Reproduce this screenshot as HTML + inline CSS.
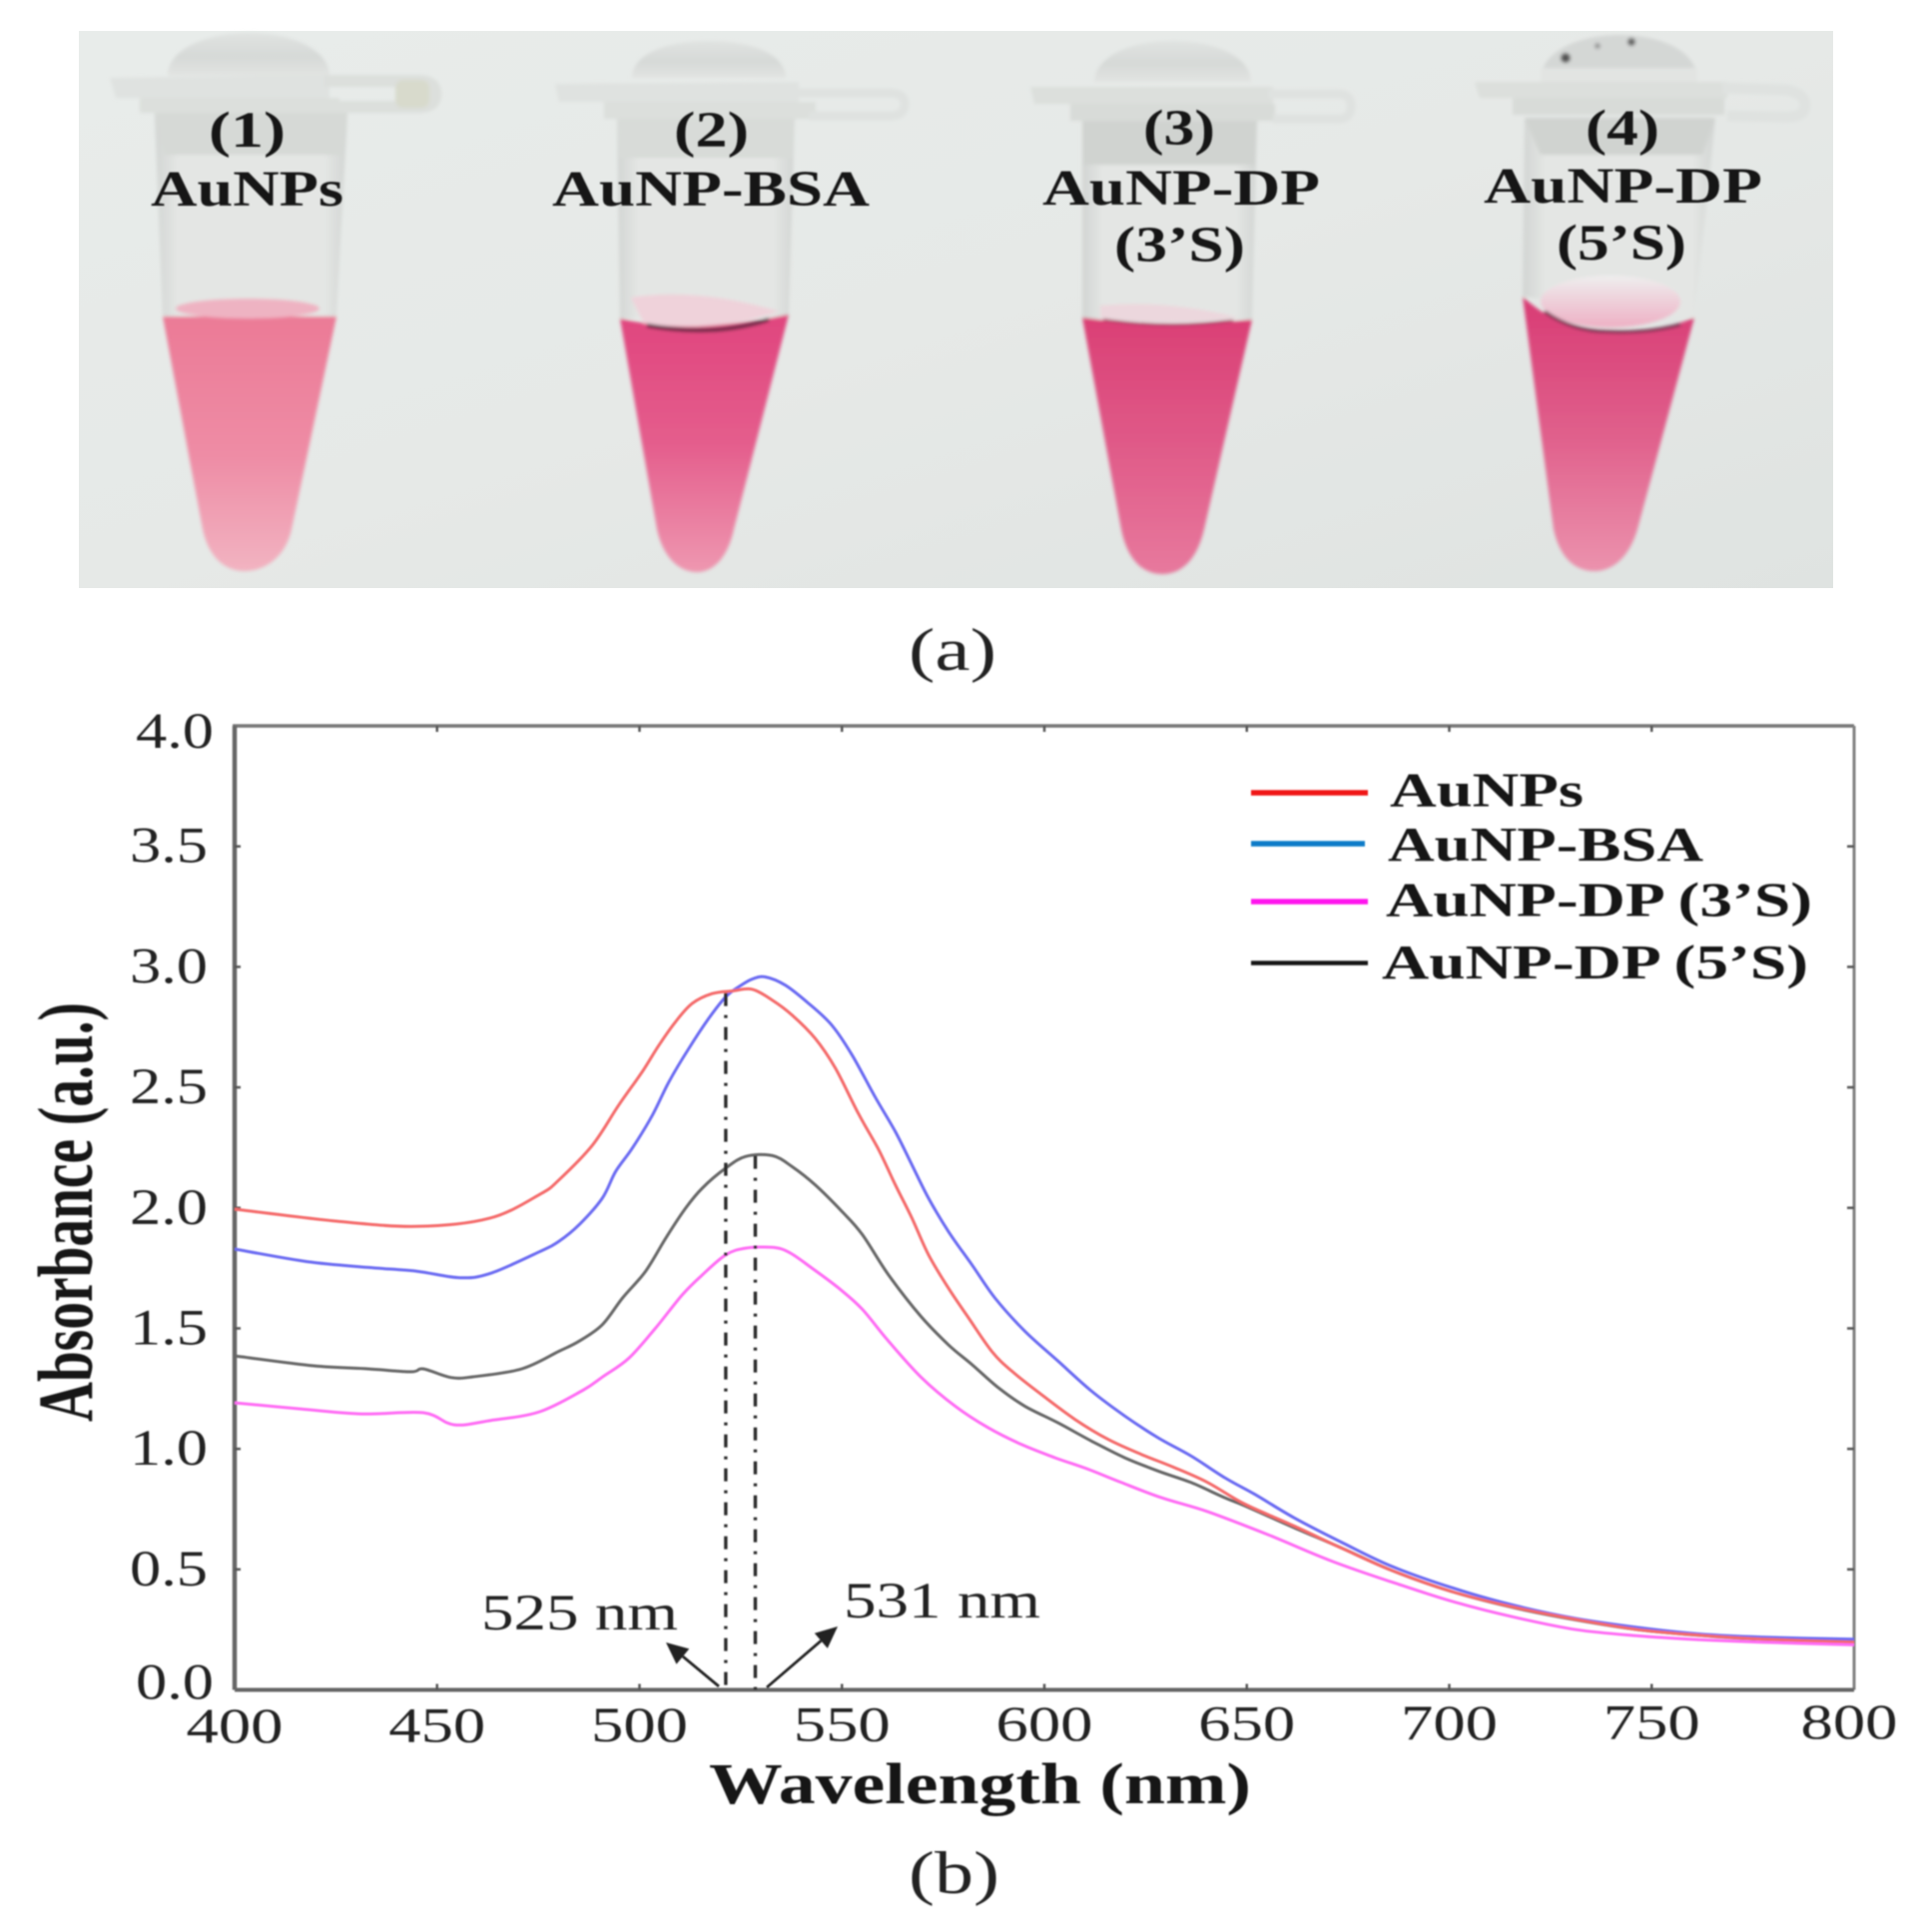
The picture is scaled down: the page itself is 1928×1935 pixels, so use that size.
<!DOCTYPE html>
<html lang="en">
<head>
<meta charset="utf-8">
<title>AuNP photo and absorbance spectra</title>
<style>
html,body{margin:0;padding:0;background:#fff;width:1928px;height:1935px;overflow:hidden}
svg{display:block}
text{font-family:"Liberation Serif","DejaVu Serif",serif}
</style>
</head>
<body>
<svg id="figure" xmlns="http://www.w3.org/2000/svg" width="1928" height="1935" viewBox="0 0 1928 1935">
<defs>
<filter id="soft" x="-5%" y="-5%" width="110%" height="110%"><feGaussianBlur stdDeviation="1.8"/></filter>
<filter id="textsoft" x="-5%" y="-5%" width="110%" height="110%"><feGaussianBlur stdDeviation="0.7"/></filter>
<linearGradient id="bg" x1="0" y1="0" x2="1" y2="1">
<stop offset="0" stop-color="#e8ecea"/><stop offset="0.5" stop-color="#e6e9e7"/><stop offset="1" stop-color="#dfe3e1"/>
</linearGradient>
<linearGradient id="glass" x1="0" y1="0" x2="1" y2="0">
<stop offset="0" stop-color="#d2d5d3"/><stop offset="0.12" stop-color="#e4e6e4"/><stop offset="0.88" stop-color="#e4e6e4"/><stop offset="1" stop-color="#d2d5d3"/>
</linearGradient>
<linearGradient id="dome" x1="0" y1="0" x2="0" y2="1">
<stop offset="0" stop-color="#e0e3e1"/><stop offset="0.55" stop-color="#d6d9d7"/><stop offset="1" stop-color="#e2e4e2"/>
</linearGradient>
<linearGradient id="liq1" x1="0" y1="0" x2="0" y2="1"><stop offset="0" stop-color="#eb7a96"/><stop offset="0.55" stop-color="#ee8ca5"/><stop offset="1" stop-color="#f2b3c1"/></linearGradient>
<linearGradient id="liq2" x1="0" y1="0" x2="0" y2="1"><stop offset="0" stop-color="#e0457e"/><stop offset="0.5" stop-color="#e45d8c"/><stop offset="1" stop-color="#ee97b0"/></linearGradient>
<linearGradient id="liq3" x1="0" y1="0" x2="0" y2="1"><stop offset="0" stop-color="#da3f75"/><stop offset="0.5" stop-color="#e05a88"/><stop offset="1" stop-color="#e7799d"/></linearGradient>
<linearGradient id="liq4" x1="0" y1="0" x2="0" y2="1"><stop offset="0" stop-color="#d83b74"/><stop offset="0.5" stop-color="#e05f8b"/><stop offset="1" stop-color="#eb92ad"/></linearGradient>
<linearGradient id="fade4" x1="0" y1="0" x2="0" y2="1"><stop offset="0" stop-color="#eeeeee"/><stop offset="1" stop-color="#eeb0c4"/></linearGradient>
</defs>

<g>
<rect x="79" y="31" width="1757" height="558" fill="url(#bg)"/>
<g filter="url(#soft)">
<g>
<path d="M155 113L348 113L337 317L163 317Z" fill="url(#glass)"/>
<path d="M155 113L348 113L343 155L165 155Z" fill="#d6d9d6"/>
<path d="M168 76C168 50 205 33 249 33C293 33 330 50 330 76Z" fill="url(#dome)"/>
<path d="M110 78L330 75L330 98L116 98Z" fill="#dfe2e0"/>
<path d="M140 98L340 98L340 113L140 113Z" fill="#dcdfdc"/>
<path d="M325 81L420 81Q436 81 436 94Q436 107 420 107L330 107" fill="none" stroke="#dcdfdc" stroke-width="12"/>
<rect x="396" y="80" width="34" height="28" rx="8" fill="#d8dacc"/>
<path d="M163 317L337 317L292 530C286 558 265 572 245 572C225 572 209 558 203 530Z" fill="url(#liq1)"/>
<ellipse cx="248" cy="309" rx="72" ry="10" fill="#eeb3c2"/>
</g>
<g>
<path d="M618 117L796 117L790 319L621 319Z" fill="url(#glass)"/>
<path d="M618 117L796 117L794 158L620 158Z" fill="#d8dbd8"/>
<path d="M633 78C633 55 665 41 710 41C755 41 787 55 787 78Z" fill="url(#dome)"/>
<path d="M556 84L800 82L800 102L560 102Z" fill="#dfe2e0"/>
<path d="M605 102L817 102L817 119L605 119Z" fill="#dcdfdc"/>
<path d="M800 93L890 93Q906 93 906 104Q906 116 890 116L810 116" fill="none" stroke="#dfe2e0" stroke-width="9"/>
<path d="M621 319Q690 336 790 315L735 530C729 558 715 573 698 573C680 573 664 558 658 530Z" fill="url(#liq2)"/>
<path d="M632 298Q700 288 780 312Q715 334 645 324Z" fill="#efd2da"/>
<path d="M648 326Q715 338 770 320" fill="none" stroke="#5f2740" stroke-width="4"/>
</g>
<g>
<path d="M1084 121L1259 121L1254 320L1084 320Z" fill="url(#glass)"/>
<path d="M1084 121L1259 121L1257 165L1085 165Z" fill="#d0d3d0"/>
<path d="M1096 82C1096 58 1130 41 1174 41C1220 41 1253 58 1253 82Z" fill="url(#dome)"/>
<path d="M1032 87L1275 87L1275 104L1036 104Z" fill="#dcdfdc"/>
<path d="M1072 104L1277 104L1277 121L1072 121Z" fill="#d8dbd8"/>
<path d="M1270 94L1340 94Q1353 94 1353 106Q1353 119 1340 119L1275 119" fill="none" stroke="#dfe2e0" stroke-width="9"/>
<path d="M1084 318Q1170 330 1254 320L1206 530C1199 560 1184 575 1164 575C1144 575 1129 560 1123 530Z" fill="url(#liq3)"/>
<path d="M1102 306Q1170 300 1240 318Q1170 328 1102 318Z" fill="#ecd7dd"/>
<path d="M1105 320Q1170 330 1235 321" fill="none" stroke="#a03a60" stroke-width="2"/>
</g>
<g>
<path d="M1527 118L1718 118L1697 318L1525 297Z" fill="url(#glass)"/>
<path d="M1527 118L1718 118L1705 155L1543 155Z" fill="#d0d3d0"/>
<path d="M1543 80C1543 52 1580 35 1622 35C1665 35 1700 52 1700 80Z" fill="#d4d7d5"/>
<rect x="1543" y="68" width="157" height="16" fill="#e2e4e2"/>
<path d="M1477 82L1730 82L1730 98L1482 98Z" fill="#dcdfdc"/>
<path d="M1515 98L1727 98L1727 115L1515 115Z" fill="#d8dbd8"/>
<path d="M1725 88L1790 90Q1808 94 1808 105Q1808 117 1790 117L1730 116" fill="none" stroke="#dfe2e0" stroke-width="11"/>
<path d="M1525 297Q1560 330 1610 332Q1660 334 1697 318L1640 530C1632 558 1615 572 1597 572C1577 572 1562 558 1556 530Z" fill="url(#liq4)"/>
<ellipse cx="1613" cy="302" rx="70" ry="26" fill="url(#fade4)"/>
<path d="M1547 312Q1575 332 1610 332Q1650 334 1683 325" fill="none" stroke="#6a2d48" stroke-width="3"/>
<circle cx="1568" cy="58" r="5" fill="#555"/><circle cx="1634" cy="42" r="4" fill="#666"/><circle cx="1600" cy="46" r="3" fill="#999"/>
</g>
</g>
<g filter="url(#textsoft)" font-weight="700" fill="#141414" font-size="51">
<text x="209" y="147" textLength="77" lengthAdjust="spacingAndGlyphs">(1)</text>
<text x="151" y="206" textLength="193" lengthAdjust="spacingAndGlyphs">AuNPs</text>
<text x="675" y="147" textLength="75" lengthAdjust="spacingAndGlyphs">(2)</text>
<text x="553" y="206" textLength="318" lengthAdjust="spacingAndGlyphs">AuNP-BSA</text>
<text x="1145" y="145" textLength="72" lengthAdjust="spacingAndGlyphs">(3)</text>
<text x="1044" y="205" textLength="278" lengthAdjust="spacingAndGlyphs">AuNP-DP</text>
<text x="1116" y="262" textLength="131" lengthAdjust="spacingAndGlyphs">(3’S)</text>
<text x="1588" y="145" textLength="74" lengthAdjust="spacingAndGlyphs">(4)</text>
<text x="1486" y="203" textLength="279" lengthAdjust="spacingAndGlyphs">AuNP-DP</text>
<text x="1559" y="260" textLength="130" lengthAdjust="spacingAndGlyphs">(5’S)</text>
</g>
</g>

<text x="910" y="671" font-size="60" fill="#222" textLength="88" lengthAdjust="spacingAndGlyphs" filter="url(#textsoft)">(a)</text>
<text x="910" y="1896" font-size="60" fill="#222" textLength="91" lengthAdjust="spacingAndGlyphs" filter="url(#textsoft)">(b)</text>

<g id="chart" filter="url(#textsoft)"></g>
</svg>

<script>
// ---- chart data ----
var xTicks = [400, 450, 500, 550, 600, 650, 700, 750, 800];
var yTicks = [0.0, 0.5, 1.0, 1.5, 2.0, 2.5, 3.0, 3.5, 4.0];
var yTickLabels = ["0.0", "0.5", "1.0", "1.5", "2.0", "2.5", "3.0", "3.5", "4.0"];

var aunpsWavelength = [400, 425, 445, 463, 475.4, 480.1, 488.4, 494.9, 500.7, 504.8, 508.9, 513, 517.9, 522.9, 527.8, 532.8, 537.7, 543.4, 548.4, 554.1, 559.1, 563.2, 567.3, 571.4, 576.3, 581.3, 587, 592, 599.3, 607.6, 615.8, 624, 632.2, 640.4, 649.5, 661.7, 673.8, 685.9, 701, 716.2, 731.4, 746.6, 761.7, 776.9, 800];
var aunpsAbsorbance = [1.995, 1.945, 1.923, 1.957, 2.056, 2.116, 2.261, 2.427, 2.565, 2.675, 2.772, 2.848, 2.889, 2.9, 2.907, 2.862, 2.8, 2.703, 2.579, 2.39, 2.24, 2.095, 1.957, 1.805, 1.667, 1.543, 1.405, 1.322, 1.225, 1.122, 1.039, 0.977, 0.922, 0.86, 0.771, 0.68, 0.585, 0.495, 0.406, 0.342, 0.292, 0.25, 0.227, 0.211, 0.198];

var bsaWavelength = [400, 417.9, 433, 445, 455.7, 463.3, 475.3, 480.1, 485.1, 490.8, 494.1, 498.2, 503.2, 507.3, 512.2, 517.1, 521.3, 524.5, 527.8, 531.1, 536, 541.8, 547.5, 552.5, 558.2, 563.2, 567.3, 571.4, 576.3, 582.1, 587.8, 595.2, 603.4, 611.7, 619.9, 628.1, 636.3, 644.6, 652, 661.7, 673.8, 685.9, 701, 716.2, 731.4, 746.6, 761.7, 776.9, 800];
var bsaAbsorbance = [1.829, 1.777, 1.753, 1.737, 1.71, 1.729, 1.818, 1.861, 1.93, 2.04, 2.151, 2.247, 2.385, 2.524, 2.662, 2.786, 2.876, 2.917, 2.949, 2.958, 2.924, 2.848, 2.758, 2.634, 2.46, 2.316, 2.178, 2.04, 1.902, 1.764, 1.626, 1.488, 1.364, 1.239, 1.136, 1.046, 0.97, 0.88, 0.811, 0.714, 0.609, 0.512, 0.422, 0.35, 0.296, 0.259, 0.232, 0.219, 0.21];

var dp3Wavelength = [400, 416.3, 431.5, 446.6, 454.2, 463.3, 475.3, 486, 491, 497.4, 504, 510.6, 515.5, 521.3, 526.2, 532.8, 536.9, 542.6, 549.2, 555, 561.5, 569.7, 578, 586.2, 594.4, 602.7, 610.9, 619.1, 629, 640.4, 655.5, 670.7, 685.9, 701, 716.2, 731.4, 746.6, 761.7, 776.9, 800];
var dp3Absorbance = [1.191, 1.166, 1.145, 1.15, 1.1, 1.118, 1.154, 1.243, 1.3, 1.377, 1.502, 1.64, 1.722, 1.805, 1.833, 1.836, 1.816, 1.75, 1.667, 1.58, 1.447, 1.295, 1.177, 1.087, 1.018, 0.963, 0.915, 0.86, 0.797, 0.739, 0.642, 0.536, 0.447, 0.366, 0.301, 0.25, 0.224, 0.208, 0.198, 0.187];

var dp5Wavelength = [400, 419.4, 433, 443.6, 446.6, 453.5, 458.8, 470.9, 480.1, 485.1, 490.8, 495.8, 501.5, 506.5, 511.4, 515.5, 521.3, 526.2, 532.8, 537.7, 543.4, 550, 555, 561.5, 569.5, 576.3, 582.1, 588.7, 595.2, 603.4, 611.7, 619.9, 628.1, 636.3, 644.6, 649.5, 661.7, 673.8, 685.9, 701, 716.2, 731.4, 746.6, 761.7, 776.9, 800];
var dp5Absorbance = [1.386, 1.345, 1.332, 1.32, 1.332, 1.296, 1.299, 1.332, 1.405, 1.447, 1.515, 1.626, 1.737, 1.875, 1.999, 2.082, 2.165, 2.213, 2.217, 2.171, 2.095, 1.985, 1.89, 1.722, 1.55, 1.432, 1.35, 1.253, 1.177, 1.108, 1.032, 0.963, 0.908, 0.86, 0.797, 0.764, 0.673, 0.586, 0.495, 0.406, 0.34, 0.29, 0.25, 0.226, 0.21, 0.2];

// peak guide lines: wavelength and the absorbance where each guide stops
var guideWavelengths = [521.3, 528.6];
var guideTops = [2.891, 2.216];

var legendLabels = ["AuNPs", "AuNP-BSA", "AuNP-DP (3’S)", "AuNP-DP (5’S)"];
var legendColors = ["#f01818", "#0a7cc8", "#ff14ee", "#141414"];

// ---- axis functions ----
var PLOT_L = 235, PLOT_R = 1857, PLOT_T = 727, PLOT_B = 1692.5;
function xScale(w) { return PLOT_L + (w - 400) / 400 * (PLOT_R - PLOT_L); }
function yScale(a) { return PLOT_B - a / 4 * (PLOT_B - PLOT_T); }

var SVGNS = "http://www.w3.org/2000/svg";
var chart = document.getElementById("chart");
function make(tag, attrs, parent) {
  var el = document.createElementNS(SVGNS, tag);
  for (var k in attrs) el.setAttribute(k, attrs[k]);
  (parent || chart).appendChild(el);
  return el;
}
function smoothPath(xs, ys) {
  var pts = xs.map(function (w, i) { return [xScale(w), yScale(ys[i])]; });
  var d = "M" + pts[0][0].toFixed(1) + " " + pts[0][1].toFixed(1);
  for (var i = 0; i < pts.length - 1; i++) {
    var p0 = pts[Math.max(0, i - 1)], p1 = pts[i], p2 = pts[i + 1], p3 = pts[Math.min(pts.length - 1, i + 2)];
    var c1x = p1[0] + (p2[0] - p0[0]) / 6, c1y = p1[1] + (p2[1] - p0[1]) / 6;
    var c2x = p2[0] - (p3[0] - p1[0]) / 6, c2y = p2[1] - (p3[1] - p1[1]) / 6;
    d += "C" + c1x.toFixed(1) + " " + c1y.toFixed(1) + " " + c2x.toFixed(1) + " " + c2y.toFixed(1) + " " + p2[0].toFixed(1) + " " + p2[1].toFixed(1);
  }
  return d;
}

// ---- frame ----
var frameTop = make("line", {x1: PLOT_L - 2, y1: PLOT_T, x2: PLOT_R, y2: PLOT_T, stroke: "#777", "stroke-width": 3.5});


var frameRight = make("line", {x1: PLOT_R, y1: PLOT_T, x2: PLOT_R, y2: PLOT_B, stroke: "#808080", "stroke-width": 3});


var axisLeft = make("line", {x1: PLOT_L, y1: PLOT_T, x2: PLOT_L, y2: PLOT_B, stroke: "#666", "stroke-width": 4.5});


var axisBottom = make("line", {x1: PLOT_L, y1: PLOT_B, x2: PLOT_R, y2: PLOT_B, stroke: "#666", "stroke-width": 4});



// ---- ticks ----
xTicks.forEach(function (w, i) {
  var px = xScale(w);
  if (i > 0 && i < xTicks.length - 1) {
    var b = make("line", {x1: px, y1: PLOT_B, x2: px, y2: PLOT_B - 6, stroke: "#555", "stroke-width": 2.5});
    
    
    var t = make("line", {x1: px, y1: PLOT_T, x2: px, y2: PLOT_T + 6, stroke: "#555", "stroke-width": 2.5});
    
    
  }
  var lbl = make("text", {x: px - (w === 800 ? 5 : 0), y: 1745 - 4 * (w - 400) / 400, "text-anchor": "middle", "font-size": 50, fill: "#222", textLength: 97, lengthAdjust: "spacingAndGlyphs"});
  
  
  lbl.textContent = String(w);
});
yTicks.forEach(function (a, i) {
  var py = yScale(a);
  if (i > 0 && i < yTicks.length - 1) {
    var l = make("line", {x1: PLOT_L, y1: py, x2: PLOT_L + 6, y2: py, stroke: "#555", "stroke-width": 2.5});
    
    
    var r = make("line", {x1: PLOT_R, y1: py, x2: PLOT_R - 7, y2: py, stroke: "#555", "stroke-width": 2.5});
    
    
  }
  var shift = a === 0 ? 9 : (a === 4 ? 22 : 16);
  var right = a === 0 || a === 4 ? 214 : 208;
  var lbl = make("text", {x: right, y: py + shift, "text-anchor": "end", "font-size": 51, fill: "#222", textLength: 78, lengthAdjust: "spacingAndGlyphs"});
  
  
  lbl.textContent = yTickLabels[i];
});

// ---- axis titles ----
var xTitle = make("text", {x: 710, y: 1806, "font-size": 58, "font-weight": 700, fill: "#141414", textLength: 543, lengthAdjust: "spacingAndGlyphs"});


xTitle.textContent = "Wavelength (nm)";
var yTitle = make("text", {transform: "translate(92 1424) rotate(-90)", x: 0, y: 0, "font-size": 78, "font-weight": 700, fill: "#141414", textLength: 420, lengthAdjust: "spacingAndGlyphs"});


yTitle.textContent = "Absorbance (a.u.)";

// ---- series ----
function drawSeries(xs, ys, color, name) {
  var p = make("path", {d: smoothPath(xs, ys), fill: "none", stroke: color, "stroke-width": 3, "stroke-linejoin": "round"});
  
  
}
drawSeries(dp5Wavelength, dp5Absorbance, "#666666", "series-aunp-dp-5s");
drawSeries(bsaWavelength, bsaAbsorbance, "#6a6af2", "series-aunp-bsa");
drawSeries(aunpsWavelength, aunpsAbsorbance, "#f46a6a", "series-aunps");
drawSeries(dp3Wavelength, dp3Absorbance, "#ff6cf4", "series-aunp-dp-3s");

// ---- guides ----
guideWavelengths.forEach(function (w, i) {
  var g = make("line", {x1: xScale(w), x2: xScale(w), y1: yScale(guideTops[i]), y2: PLOT_B, stroke: "#2a2a2a", "stroke-width": 3.4, "stroke-dasharray": "13 9 3 9"});
  
  
});

// ---- annotations ----
function arrow(x1, y1, x2, y2, name) {
  var a = Math.atan2(y2 - y1, x2 - x1), len = 22, wid = 10;
  var bx = x2 - len * Math.cos(a), by = y2 - len * Math.sin(a);
  var shaft = make("line", {x1: x1, y1: y1, x2: bx, y2: by, stroke: "#222", "stroke-width": 2.8});
  
  
  var pts = [x2, y2, bx - wid * Math.sin(a), by + wid * Math.cos(a), bx + wid * Math.sin(a), by - wid * Math.cos(a)].map(function (v) { return v.toFixed(1); }).join(" ");
  var head = make("polygon", {points: pts, fill: "#222"});
  
  
}
arrow(720, 1689, 667, 1645, "peak-arrow-525");
arrow(768, 1690, 839, 1629, "peak-arrow-531");
var ann1 = make("text", {x: 482, y: 1632, "font-size": 51, fill: "#222", textLength: 197, lengthAdjust: "spacingAndGlyphs"});


ann1.textContent = "525 nm";
var ann2 = make("text", {x: 845, y: 1620, "font-size": 51, fill: "#222", textLength: 197, lengthAdjust: "spacingAndGlyphs"});


ann2.textContent = "531 nm";

// ---- legend ----
var legendLineY = [794, 845, 903, 964.5];
var legendTextX = [1392, 1390, 1388, 1384];
var legendTextY = [807.5, 862, 917.5, 980];
var legendTextW = [194, 316, 427, 427];
legendLabels.forEach(function (label, i) {
  var ln = make("line", {x1: 1253, x2: i === 1 ? 1367 : 1370, y1: legendLineY[i], y2: legendLineY[i], stroke: legendColors[i], "stroke-width": i === 3 ? 4.5 : 5.5});
  
  
  var tx = make("text", {x: legendTextX[i], y: legendTextY[i], "font-size": 49, "font-weight": 700, fill: "#141414", textLength: legendTextW[i], lengthAdjust: "spacingAndGlyphs"});
  
  
  tx.textContent = label;
});
</script>
</body>
</html>
